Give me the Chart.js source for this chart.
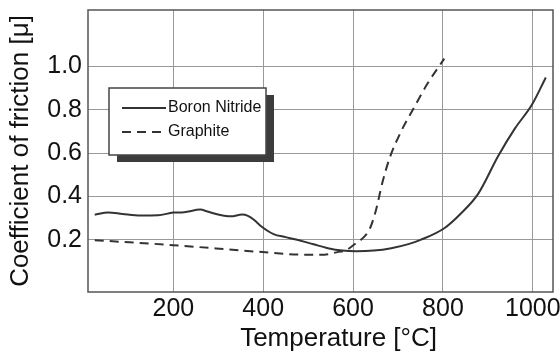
<!DOCTYPE html>
<html>
<head>
    <title>Coefficient of friction vs temperature</title>
    <style>
        body {
            margin: 0;
            background: #fff;
        }
        #chart {
            display: block;
        }
    </style>
</head>
<body>
    <canvas id="chart" width="560" height="356"></canvas>

    <script src="https://cdn.jsdelivr.net/npm/chart.js"></script>
    <script>
        // values
        var seriesNames = ['Boron Nitride', 'Graphite'];

        var boronTemp = [25, 55, 87, 127, 166, 200, 224, 260, 276, 302, 328, 353, 366, 380, 396, 423, 450, 473, 512, 544, 576, 607, 646, 685, 725, 750, 803, 840, 878, 923, 960, 998, 1029];
        var boronMu = [0.316, 0.327, 0.320, 0.313, 0.314, 0.326, 0.328, 0.340, 0.331, 0.316, 0.309, 0.317, 0.311, 0.292, 0.262, 0.227, 0.213, 0.202, 0.180, 0.162, 0.151, 0.148, 0.151, 0.162, 0.182, 0.200, 0.254, 0.322, 0.411, 0.587, 0.713, 0.823, 0.949];

        var graphiteTemp = [25, 200, 392, 489, 536, 567, 584, 607, 625, 638, 650, 666, 681, 708, 733, 764, 803];
        var graphiteMu = [0.199, 0.176, 0.145, 0.132, 0.132, 0.145, 0.152, 0.186, 0.215, 0.255, 0.330, 0.470, 0.575, 0.705, 0.800, 0.915, 1.036];

        var xTicks = [200, 400, 600, 800, 1000];
        var yTicks = [0.2, 0.4, 0.6, 0.8, 1.0];

        var xTitle = 'Temperature [°C]';
        var yTitle = 'Coefficient of friction [μ]';

        var FONT = "'Liberation Sans', Arial, sans-serif";
        var INK = '#333';

        function toPoints(xs, ys) {
            return xs.map(function(x, i) { return { x: x, y: ys[i] }; });
        }

        // frame around the plot + the boxed legend with its drop shadow
        var framePlugin = {
            id: 'frame',
            afterDatasetsDraw: function(chart) {
                var ctx = chart.ctx;
                var a = chart.chartArea;
                ctx.save();
                ctx.strokeStyle = '#555';
                ctx.lineWidth = 1.5;
                ctx.strokeRect(a.left, a.top, a.right - a.left, a.bottom - a.top);

                // legend box
                var bx = a.left + 21, by = a.top + 78, bw = 157, bh = 67;
                ctx.fillStyle = '#3c3c3c';
                ctx.fillRect(bx + 8, by + 7, bw, bh);
                ctx.fillStyle = '#fff';
                ctx.fillRect(bx, by, bw, bh);
                ctx.strokeStyle = '#444';
                ctx.lineWidth = 1.5;
                ctx.strokeRect(bx, by, bw, bh);

                ctx.font = '16px ' + FONT;
                ctx.textBaseline = 'middle';
                chart.data.datasets.forEach(function(ds, i) {
                    var y = by + 20 + i * 24;
                    ctx.strokeStyle = ds.borderColor;
                    ctx.lineWidth = 2;
                    ctx.setLineDash(ds.borderDash || []);
                    ctx.beginPath();
                    ctx.moveTo(bx + 13, y);
                    ctx.lineTo(bx + 57, y);
                    ctx.stroke();
                    ctx.setLineDash([]);
                    ctx.fillStyle = '#111';
                    ctx.fillText(ds.label, bx + 59, y);
                });
                ctx.restore();
            }
        };

        var ctx = document.getElementById('chart').getContext('2d');
        new Chart(ctx, {
            type: 'line',
            data: {
                datasets: [{
                    label: seriesNames[0],
                    data: toPoints(boronTemp, boronMu),
                    borderColor: INK,
                    borderWidth: 2,
                    pointRadius: 0,
                    cubicInterpolationMode: 'monotone',
                    fill: false
                }, {
                    label: seriesNames[1],
                    data: toPoints(graphiteTemp, graphiteMu),
                    borderColor: INK,
                    borderWidth: 2,
                    borderDash: [9, 6],
                    pointRadius: 0,
                    cubicInterpolationMode: 'monotone',
                    fill: false
                }]
            },
            options: {
                responsive: false,
                animation: false,
                layout: {
                    padding: { top: 10, right: 7, left: 0, bottom: 0 }
                },
                plugins: {
                    legend: { display: false },
                    tooltip: { enabled: false }
                },
                scales: {
                    x: {
                        type: 'linear',
                        min: 10,
                        max: 1045,
                        afterBuildTicks: function(axis) {
                            axis.ticks = xTicks.map(function(v) { return { value: v }; });
                        },
                        afterFit: function(axis) {
                            axis.height = 64;
                            axis.paddingLeft = 0;
                            axis.paddingRight = 0;
                        },
                        grid: { color: '#999', lineWidth: 1, drawTicks: false },
                        border: { display: false },
                        ticks: {
                            color: '#111',
                            padding: 2,
                            maxRotation: 0,
                            font: { family: FONT, size: 25 },
                            callback: function(v) { return String(v); }
                        },
                        title: {
                            display: true,
                            text: '     ' + xTitle,
                            color: '#111',
                            padding: { top: 0, bottom: 2 },
                            font: { family: FONT, size: 26 }
                        }
                    },
                    y: {
                        min: -0.04,
                        max: 1.26,
                        afterBuildTicks: function(axis) {
                            axis.ticks = yTicks.map(function(v) { return { value: v }; });
                        },
                        afterFit: function(axis) {
                            axis.width = 88;
                            axis.paddingTop = 0;
                            axis.paddingBottom = 0;
                        },
                        grid: { color: '#999', lineWidth: 1, drawTicks: false },
                        border: { display: false },
                        ticks: {
                            color: '#111',
                            padding: 6,
                            font: { family: FONT, size: 25 },
                            callback: function(v) { return Number(v).toFixed(1); }
                        },
                        title: {
                            display: true,
                            text: yTitle,
                            color: '#111',
                            padding: { top: 5, bottom: 0 },
                            font: { family: FONT, size: 26 }
                        }
                    }
                }
            },
            plugins: [framePlugin]
        });
    </script>
</body>
</html>
